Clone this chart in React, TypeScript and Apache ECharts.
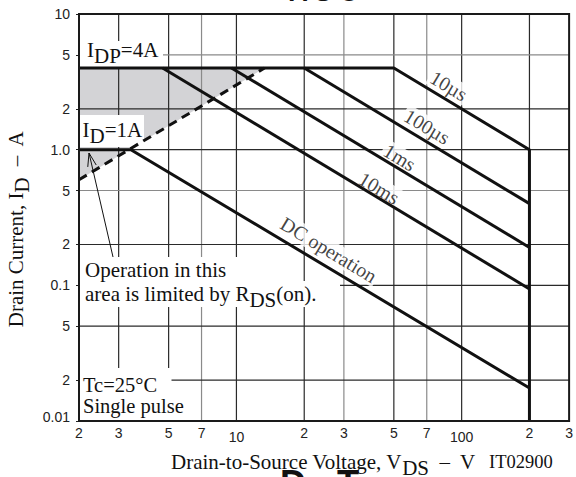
import React, { useEffect, useRef } from "react";
import * as echarts from "echarts";

// ---------- data ----------
const xTickValues = [2, 3, 5, 7, 10, 20, 30, 50, 70, 100, 200, 300];
const xTickLabels = ["2", "3", "5", "7", "10", "2", "3", "5", "7", "100", "2", "3"];
const yTickValues = [0.01, 0.02, 0.05, 0.1, 0.2, 0.5, 1, 2, 5, 10];
const yTickLabels = ["0.01", "2", "5", "0.1", "2", "5", "1.0", "2", "5", "10"];

const xGridDark = [3, 5, 10, 20, 50, 100, 200];
const xGridGray = [7, 30, 70];
const yGridDark = [0.02, 0.05, 0.1, 0.2, 1, 2];
const yGridGray = [0.5, 5];

// SOA curves (V_DS in V, I_D in A)
const pulse10usV = [2, 50, 200, 200];
const pulse10usI = [4, 4, 1.0, 0.01];
const pulse100usV = [20, 200];
const pulse100usI = [4, 0.4];
const pulse1msV = [9.5, 200];
const pulse1msI = [4, 0.19];
const pulse10msV = [4.7, 200];
const pulse10msI = [4, 0.094];
const dcV = [2, 3.4, 200];
const dcI = [1, 1, 0.0175];
const rdsV = [2, 13.33];
const rdsI = [0.6, 4];
const shadeV = [2, 13.33, 2];
const shadeI = [4, 4, 0.6];

const curveLabels = ["10µs", "100µs", "1ms", "10ms", "DC operation"];
const curveLabelV = [87.8, 70.2, 53.1, 43.0, 25.7];
const curveLabelI = [2.95, 1.48, 0.878, 0.521, 0.183];

// ---------- helpers ----------
const lx = (v: number) => Math.log10(v);
const X0 = lx(2), X1 = lx(300), Y0 = lx(0.01), Y1 = lx(10);
const SERIF = "Liberation Serif, Times New Roman, serif";
const SANS = "Liberation Sans, Arial, sans-serif";
const pts = (V: number[], I: number[]) => V.map((v, i) => [lx(v), lx(I[i])]);
const findIdx = (arr: number[], v: number) => arr.findIndex((t) => Math.abs(lx(t) - v) < 1e-6);

const nS = { fontSize: 21, fontFamily: SERIF, fill: "#111", lineHeight: 24, verticalAlign: "middle" };
const sS = { ...nS, padding: [12, 0, 0, 0] };
const richT = { n: nS, s: sS };

const curve = (name: string, V: number[], I: number[], extra: any = {}) => ({
  type: "line",
  name,
  data: pts(V, I),
  symbol: "none",
  silent: true,
  z: 4,
  lineStyle: { color: "#111", width: 3, ...extra },
});

const arrowTip = [89, 153];
const arrowTail = [113, 257];
const arrowHead = (() => {
  const dx = arrowTail[0] - arrowTip[0], dy = arrowTail[1] - arrowTip[1];
  const L = Math.hypot(dx, dy);
  const ux = dx / L, uy = dy / L;
  const a = (18 * Math.PI) / 180, len = 14;
  const r = (s: number) => [
    arrowTip[0] + len * (ux * Math.cos(s * a) - uy * Math.sin(s * a)),
    arrowTip[1] + len * (ux * Math.sin(s * a) + uy * Math.cos(s * a)),
  ];
  return [r(1), arrowTip, r(-1)];
})();

const whiteRect = (x: number, y: number, w: number, h: number) => ({
  type: "rect", z: 3, silent: true, shape: { x, y, width: w, height: h }, style: { fill: "#fff" },
});

const gridData = [
  ...xGridDark.map((v) => [0, lx(v), 0]),
  ...xGridGray.map((v) => [0, lx(v), 1]),
  ...yGridDark.map((v) => [1, lx(v), 0]),
  ...yGridGray.map((v) => [1, lx(v), 1]),
];

const option: any = {
  animation: false,
  backgroundColor: "#fff",
  grid: { left: 79, right: 5, top: 14, bottom: 56, show: true, z: 10, borderColor: "#1a1a1a", borderWidth: 2, backgroundColor: "rgba(0,0,0,0)" },
  xAxis: {
    type: "value", min: X0, max: X1,
    splitLine: { show: false }, axisLine: { show: false },
    axisTick: { show: false },
    axisLabel: {
      customValues: xTickValues.map(lx),
      margin: 5, fontFamily: SANS, fontSize: 14, color: "#222",
      formatter: (v: number) => {
        const s = xTickLabels[findIdx(xTickValues, v)] ?? "";
        return s === "10" || s === "100" ? `{dn|${s}}` : s;
      },
      rich: { dn: { fontFamily: SANS, fontSize: 14, color: "#222", padding: [4, 0, 0, 0] } },
    },
  },
  yAxis: {
    type: "value", min: Y0, max: Y1,
    splitLine: { show: false }, axisLine: { show: false },
    axisTick: { show: true, customValues: yTickValues.map(lx), length: 3, lineStyle: { color: "#222" } },
    axisLabel: {
      customValues: yTickValues.map(lx),
      margin: 9, fontFamily: SANS, fontSize: 14, color: "#222",
      formatter: (v: number) => {
        const s = yTickLabels[findIdx(yTickValues, v)] ?? "";
        return s === "0.01" ? `{up|${s}}` : s;
      },
      rich: { up: { fontFamily: SANS, fontSize: 14, color: "#222", padding: [0, 0, 8, 0] } },
    },
  },
  series: [
    {
      type: "custom", name: "shade", z: 1, silent: true,
      data: pts(shadeV, shadeI),
      renderItem: (params: any, api: any) => {
        if (params.dataIndex !== 0) return null;
        const p = pts(shadeV, shadeI).map((q) => api.coord(q));
        return { type: "polygon", shape: { points: p }, style: { fill: "#d3d3d6" } };
      },
    },
    {
      type: "custom", name: "grid", z: 2, silent: true,
      data: gridData,
      renderItem: (params: any, api: any) => {
        const dir = api.value(0), v = api.value(1), g = api.value(2);
        const p1 = dir === 0 ? api.coord([v, Y0]) : api.coord([X0, v]);
        const p2 = dir === 0 ? api.coord([v, Y1]) : api.coord([X1, v]);
        return {
          type: "line",
          shape: { x1: p1[0], y1: p1[1], x2: p2[0], y2: p2[1] },
          style: { stroke: g ? "#8a8a8a" : "#2a2a2a", lineWidth: 1.2 },
        };
      },
    },
    {
      type: "scatter", name: "labels", z: 3, silent: true, symbolSize: 0,
      data: pts(curveLabelV, curveLabelI),
      label: {
        show: true, position: "inside", rotate: -31,
        formatter: (p: any) => curveLabels[p.dataIndex],
        fontFamily: SERIF, fontSize: 20, color: "#111",
        backgroundColor: "#fff", padding: [0, 2],
      },
    },
    curve("10µs", pulse10usV, pulse10usI),
    curve("100µs", pulse100usV, pulse100usI),
    curve("1ms", pulse1msV, pulse1msI),
    curve("10ms", pulse10msV, pulse10msI),
    curve("DC", dcV, dcI),
    curve("RDS(on)", rdsV, rdsI, { type: [9, 6] }),
  ],
  graphic: [
    whiteRect(80, 41, 83, 26),
    whiteRect(80, 115, 64, 32),
    whiteRect(80, 257, 170, 25),
    whiteRect(80, 281, 260, 26),
    whiteRect(80, 368, 91.5, 26),
    whiteRect(80, 393, 116, 27),
    { type: "text", z: 5, x: 87, y: 49.5, style: { text: "{n|I}{s|DP}{n|=4A}", rich: richT, verticalAlign: "middle", align: "left" } },
    { type: "text", z: 5, x: 82.5, y: 129.5, style: { text: "{n|I}{s|D}{n|=1A}", rich: richT, verticalAlign: "middle", align: "left" } },
    { type: "text", z: 5, x: 85, y: 257.5, style: { text: "{n|Operation in this}\n{n|area is limited by R}{s|DS}{n|(on).}", rich: richT, verticalAlign: "top", align: "left" } },
    { type: "text", z: 5, x: 83, y: 374, style: { text: "{n|Tc=25°C}\n{n|Single pulse}", rich: { n: { ...nS, fontSize: 20.5, lineHeight: 21 } }, verticalAlign: "top", align: "left" } },
    { type: "text", z: 5, x: 171, y: 461.5, style: { text: "{n|Drain-to-Source Voltage, V}{s|DS}{n|  –  V}", rich: richT, verticalAlign: "middle", align: "left" } },
    { type: "text", z: 5, x: 489, y: 462, style: { text: "IT02900", fontSize: 18.5, fontFamily: SERIF, fill: "#111", verticalAlign: "middle", align: "left" } },
    { type: "text", z: 5, x: 15.5, y: 229, rotation: Math.PI / 2, style: { text: "{n|Drain Current, I}{s|D}{n|  –  A}", rich: richT, verticalAlign: "middle", align: "center" } },
    { type: "polyline", z: 5, silent: true, shape: { points: [arrowTail, arrowTip] }, style: { stroke: "#111", lineWidth: 1, fill: null } },
    { type: "polyline", z: 5, silent: true, shape: { points: arrowHead }, style: { stroke: "#111", lineWidth: 1, fill: null } },
    { type: "text", z: 0, x: 324, y: 5, style: { text: "A S O", fontSize: 26, fontWeight: "bold", fontFamily: SANS, fill: "#111", verticalAlign: "bottom", align: "center" } },
    { type: "text", z: 0, x: 280, y: 465, style: { text: "D", fontSize: 36, fontWeight: "bold", fontFamily: SANS, fill: "#111", verticalAlign: "top", align: "left" } },
    { type: "text", z: 0, x: 337, y: 465, style: { text: "T", fontSize: 36, fontWeight: "bold", fontFamily: SANS, fill: "#111", verticalAlign: "top", align: "left" } },
  ],
};

export default function App() {
  const ref = useRef<HTMLDivElement>(null);
  useEffect(() => {
    if (!ref.current) return;
    const chart = echarts.init(ref.current, null, { renderer: "svg" });
    chart.setOption(option);
    return () => chart.dispose();
  }, []);
  return (
    <div
      ref={ref}
      style={{ position: "fixed", left: 0, top: 0, width: 576, height: 477, background: "#fff" }}
    />
  );
}
